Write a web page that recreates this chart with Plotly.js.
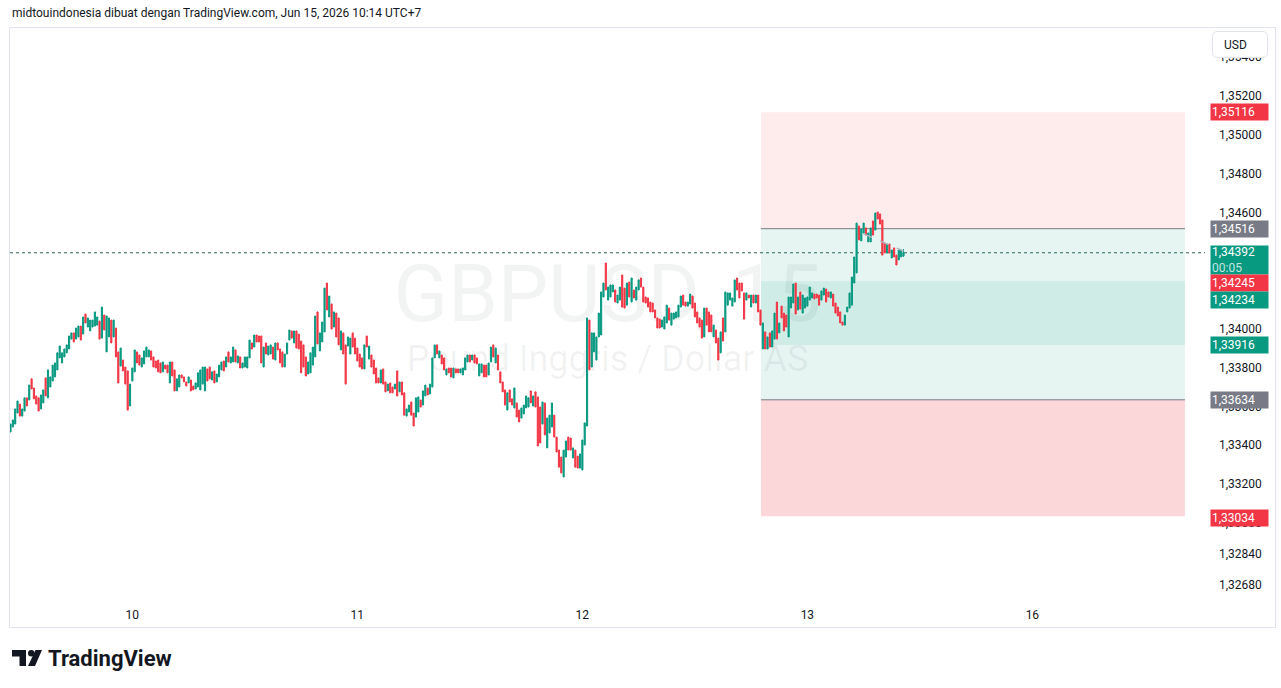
<!DOCTYPE html>
<html><head><meta charset="utf-8">
<script src="https://cdn.plot.ly/plotly-3.0.1.min.js"></script>
<style>html,body{margin:0;padding:0;background:#fff;}#chart{width:1281px;height:688px;}</style>
</head><body><div id="chart"></div>
<script>
// ---- DATA: GBPUSD 15-minute candles ----
const openPrice = [
1.33468,1.33494,1.33509,1.33566,1.33612,1.33550,1.33576,1.33644,1.33633,1.33742,
1.33695,1.33654,1.33644,1.33587,1.33618,1.33747,1.33644,1.33700,1.33731,1.33752,
1.33788,1.33850,1.33824,1.33855,1.33876,1.33896,1.33947,1.33979,1.33947,1.33958,
1.34014,1.33973,1.34076,1.34009,1.33989,1.34009,1.34014,1.34019,1.34040,1.33952,
1.34071,1.33881,1.33958,1.34045,1.33958,1.34004,1.33881,1.33808,1.33839,1.33803,
1.33783,1.33602,1.33731,1.33778,1.33881,1.33865,1.33803,1.33819,1.33855,1.33855,
1.33886,1.33855,1.33834,1.33839,1.33824,1.33778,1.33813,1.33813,1.33721,1.33829,
1.33788,1.33680,1.33700,1.33762,1.33752,1.33726,1.33721,1.33736,1.33705,1.33690,
1.33700,1.33685,1.33715,1.33680,1.33793,1.33803,1.33736,1.33783,1.33726,1.33752,
1.33788,1.33834,1.33803,1.33881,1.33824,1.33829,1.33891,1.33824,1.33855,1.33798,
1.33803,1.33798,1.33850,1.33927,1.33906,1.33968,1.33963,1.33963,1.33803,1.33927,
1.33865,1.33870,1.33906,1.33839,1.33927,1.33896,1.33881,1.33803,1.33870,1.33942,
1.33989,1.33927,1.33989,1.33973,1.33937,1.33917,1.33855,1.33767,1.33773,1.33813,
1.33855,1.34087,1.33886,1.33932,1.33984,1.34236,1.34061,1.34128,1.34009,1.34081,
1.34056,1.33891,1.33979,1.33917,1.33911,1.33870,1.33979,1.33952,1.33901,1.33870,
1.33850,1.33793,1.33963,1.33844,1.33865,1.33839,1.33798,1.33747,1.33721,1.33793,
1.33726,1.33680,1.33721,1.33700,1.33690,1.33783,1.33675,1.33726,1.33670,1.33550,
1.33571,1.33623,1.33566,1.33545,1.33571,1.33633,1.33607,1.33654,1.33695,1.33664,
1.33700,1.33850,1.33917,1.33850,1.33865,1.33850,1.33762,1.33798,1.33798,1.33747,
1.33793,1.33793,1.33773,1.33762,1.33788,1.33829,1.33865,1.33839,1.33865,1.33850,
1.33757,1.33773,1.33813,1.33813,1.33762,1.33829,1.33917,1.33824,1.33865,1.33778,
1.33726,1.33685,1.33581,1.33685,1.33639,1.33592,1.33618,1.33581,1.33540,1.33561,
1.33592,1.33597,1.33680,1.33602,1.33675,1.33649,1.33597,1.33509,1.33618,1.33386,
1.33463,1.33494,1.33555,1.33442,1.33375,1.33339,1.33236,1.33339,1.33442,1.33437,
1.33334,1.33375,1.33344,1.33282,1.33272,1.33401,1.33499,1.34045,1.33803,1.33881,
1.33839,1.33958,1.33968,1.34164,1.34339,1.34148,1.34164,1.34190,1.34200,1.34133,
1.34148,1.34277,1.34210,1.34122,1.34241,1.34138,1.34200,1.34148,1.34200,1.34262,
1.34215,1.34164,1.34159,1.34138,1.34133,1.34097,1.34056,1.34050,1.34009,1.33999,
1.34030,1.34107,1.34019,1.34050,1.34056,1.34061,1.34112,1.34174,1.34138,1.34117,
1.34128,1.34169,1.34133,1.34087,1.34056,1.34045,1.33958,1.34107,1.34087,1.34071,
1.33958,1.33994,1.33952,1.33876,1.34056,1.33984,1.34122,1.34148,1.34117,1.34138,
1.34262,1.34236,1.34236,1.34185,1.34148,1.34174,1.34112,1.34174,1.34133,1.34174,
1.34097,1.33896,1.33984,1.33896,1.33979,1.33906,1.33947,1.34138,1.33979,1.34117,
1.34081,1.34071,1.33958,1.34107,1.34133,1.34236,1.34097,1.34190,1.34081,1.34107,
1.34117,1.34148,1.34159,1.34179,1.34179,1.34174,1.34148,1.34174,1.34205,1.34190,
1.34159,1.34179,1.34133,1.34112,1.34087,1.34035,1.34019,1.34087,1.34107,1.34122,
1.34236,1.34288,1.34530,1.34453,1.34494,1.34520,1.34448,1.34448,1.34556,1.34509,
1.34602,1.34592,1.34561,1.34442,1.34391,1.34437,1.34365,1.34417,1.34380,1.34355,
1.34370,1.34375];
const highPrice = [
1.33509,1.33530,1.33587,1.33628,1.33612,1.33587,1.33644,1.33644,1.33710,1.33742,
1.33695,1.33654,1.33644,1.33659,1.33685,1.33747,1.33788,1.33752,1.33813,1.33824,
1.33876,1.33911,1.33876,1.33896,1.33917,1.33963,1.33979,1.33979,1.34004,1.34014,
1.34014,1.34061,1.34076,1.34056,1.34045,1.34045,1.34087,1.34061,1.34040,1.34112,
1.34071,1.34066,1.34056,1.34045,1.34045,1.34004,1.33881,1.33901,1.33839,1.33803,
1.33783,1.33715,1.33798,1.33891,1.33881,1.33865,1.33850,1.33886,1.33906,1.33891,
1.33886,1.33855,1.33834,1.33839,1.33824,1.33829,1.33813,1.33813,1.33829,1.33829,
1.33788,1.33742,1.33762,1.33762,1.33752,1.33726,1.33752,1.33736,1.33705,1.33721,
1.33773,1.33788,1.33803,1.33803,1.33793,1.33803,1.33778,1.33783,1.33767,1.33813,
1.33829,1.33834,1.33855,1.33881,1.33855,1.33906,1.33891,1.33860,1.33855,1.33824,
1.33855,1.33855,1.33942,1.33927,1.33968,1.33968,1.33963,1.33963,1.33906,1.33927,
1.33911,1.33917,1.33906,1.33927,1.33927,1.33896,1.33881,1.33870,1.33927,1.33994,
1.33989,1.33989,1.33989,1.33973,1.33937,1.33917,1.33855,1.33829,1.33876,1.33906,
1.34066,1.34087,1.33979,1.34035,1.34210,1.34236,1.34169,1.34128,1.34087,1.34081,
1.34056,1.33989,1.33979,1.33917,1.33958,1.33952,1.33979,1.33952,1.33901,1.33870,
1.33850,1.33917,1.33963,1.33911,1.33865,1.33839,1.33798,1.33747,1.33788,1.33793,
1.33726,1.33715,1.33721,1.33700,1.33715,1.33783,1.33726,1.33726,1.33670,1.33587,
1.33607,1.33623,1.33566,1.33644,1.33649,1.33633,1.33680,1.33710,1.33695,1.33715,
1.33850,1.33917,1.33917,1.33886,1.33865,1.33850,1.33793,1.33798,1.33798,1.33798,
1.33793,1.33793,1.33793,1.33798,1.33850,1.33865,1.33865,1.33865,1.33865,1.33850,
1.33819,1.33819,1.33813,1.33813,1.33824,1.33906,1.33917,1.33901,1.33865,1.33778,
1.33726,1.33685,1.33670,1.33685,1.33639,1.33695,1.33618,1.33581,1.33592,1.33607,
1.33654,1.33644,1.33680,1.33654,1.33675,1.33649,1.33597,1.33623,1.33618,1.33540,
1.33555,1.33618,1.33555,1.33442,1.33375,1.33339,1.33375,1.33422,1.33442,1.33437,
1.33386,1.33375,1.33344,1.33355,1.33427,1.33515,1.34056,1.34045,1.33979,1.33979,
1.33958,1.34081,1.34190,1.34236,1.34339,1.34215,1.34226,1.34226,1.34200,1.34174,
1.34215,1.34277,1.34210,1.34236,1.34241,1.34262,1.34200,1.34215,1.34252,1.34262,
1.34215,1.34164,1.34159,1.34138,1.34133,1.34097,1.34056,1.34050,1.34045,1.34061,
1.34122,1.34107,1.34081,1.34081,1.34087,1.34122,1.34169,1.34174,1.34138,1.34138,
1.34179,1.34169,1.34133,1.34087,1.34056,1.34045,1.34107,1.34107,1.34087,1.34071,
1.34019,1.33994,1.33952,1.33984,1.34056,1.34190,1.34185,1.34185,1.34159,1.34252,
1.34262,1.34236,1.34236,1.34185,1.34185,1.34174,1.34174,1.34174,1.34174,1.34174,
1.34097,1.34030,1.33984,1.33958,1.33979,1.33989,1.34081,1.34138,1.34030,1.34117,
1.34081,1.34071,1.34164,1.34164,1.34231,1.34236,1.34164,1.34190,1.34174,1.34159,
1.34164,1.34215,1.34185,1.34179,1.34179,1.34174,1.34195,1.34210,1.34205,1.34190,
1.34190,1.34179,1.34133,1.34112,1.34087,1.34035,1.34071,1.34112,1.34185,1.34267,
1.34370,1.34545,1.34530,1.34514,1.34545,1.34520,1.34494,1.34520,1.34556,1.34597,
1.34602,1.34592,1.34561,1.34442,1.34437,1.34437,1.34406,1.34417,1.34380,1.34406,
1.34406,1.34411];
const lowPrice = [
1.33468,1.33494,1.33509,1.33566,1.33550,1.33550,1.33576,1.33602,1.33633,1.33690,
1.33639,1.33612,1.33576,1.33587,1.33618,1.33654,1.33644,1.33700,1.33731,1.33752,
1.33788,1.33850,1.33824,1.33855,1.33876,1.33896,1.33947,1.33932,1.33947,1.33958,
1.33942,1.33973,1.34030,1.34009,1.33989,1.34009,1.34014,1.34019,1.33947,1.33952,
1.33994,1.33881,1.33958,1.33927,1.33958,1.33855,1.33721,1.33808,1.33783,1.33715,
1.33581,1.33602,1.33731,1.33778,1.33824,1.33813,1.33803,1.33819,1.33855,1.33855,
1.33839,1.33803,1.33798,1.33778,1.33773,1.33778,1.33793,1.33773,1.33721,1.33757,
1.33680,1.33680,1.33700,1.33747,1.33726,1.33705,1.33721,1.33680,1.33685,1.33690,
1.33700,1.33685,1.33715,1.33680,1.33731,1.33742,1.33736,1.33721,1.33726,1.33752,
1.33788,1.33783,1.33803,1.33829,1.33824,1.33829,1.33829,1.33824,1.33798,1.33798,
1.33803,1.33798,1.33850,1.33896,1.33906,1.33932,1.33932,1.33824,1.33803,1.33870,
1.33865,1.33870,1.33844,1.33839,1.33891,1.33824,1.33803,1.33803,1.33870,1.33942,
1.33952,1.33927,1.33901,1.33896,1.33773,1.33803,1.33757,1.33767,1.33773,1.33813,
1.33855,1.33922,1.33886,1.33932,1.33984,1.34097,1.34061,1.33999,1.34009,1.33958,
1.33917,1.33891,1.33870,1.33715,1.33911,1.33870,1.33906,1.33870,1.33834,1.33803,
1.33793,1.33793,1.33906,1.33844,1.33803,1.33767,1.33721,1.33721,1.33721,1.33715,
1.33675,1.33680,1.33670,1.33670,1.33690,1.33654,1.33675,1.33659,1.33555,1.33550,
1.33571,1.33555,1.33499,1.33545,1.33571,1.33597,1.33607,1.33654,1.33659,1.33664,
1.33700,1.33850,1.33870,1.33850,1.33819,1.33788,1.33762,1.33773,1.33752,1.33747,
1.33773,1.33773,1.33773,1.33762,1.33788,1.33829,1.33829,1.33839,1.33824,1.33819,
1.33757,1.33773,1.33752,1.33752,1.33762,1.33829,1.33855,1.33824,1.33788,1.33721,
1.33675,1.33607,1.33581,1.33623,1.33607,1.33592,1.33545,1.33520,1.33540,1.33561,
1.33592,1.33597,1.33618,1.33602,1.33597,1.33396,1.33412,1.33509,1.33453,1.33386,
1.33463,1.33494,1.33442,1.33365,1.33287,1.33257,1.33236,1.33339,1.33375,1.33375,
1.33334,1.33287,1.33282,1.33282,1.33272,1.33401,1.33499,1.33788,1.33803,1.33881,
1.33839,1.33958,1.33968,1.34164,1.34200,1.34148,1.34164,1.34190,1.34138,1.34133,
1.34148,1.34112,1.34107,1.34122,1.34164,1.34138,1.34159,1.34148,1.34200,1.34215,
1.34138,1.34133,1.34112,1.34087,1.34087,1.34056,1.34004,1.34004,1.34009,1.33999,
1.34030,1.34045,1.34019,1.34050,1.34056,1.34061,1.34112,1.34122,1.34117,1.34117,
1.34128,1.34107,1.34061,1.34030,1.34009,1.33952,1.33958,1.34019,1.33984,1.33984,
1.33958,1.33927,1.33839,1.33876,1.33937,1.33984,1.34122,1.34148,1.34117,1.34138,
1.34200,1.34159,1.34195,1.34050,1.34148,1.34159,1.34112,1.34133,1.34133,1.34087,
1.34019,1.33896,1.33896,1.33896,1.33906,1.33906,1.33947,1.33947,1.33979,1.34056,
1.33989,1.34009,1.33958,1.34107,1.34133,1.34076,1.34097,1.34102,1.34081,1.34107,
1.34117,1.34148,1.34159,1.34154,1.34159,1.34122,1.34148,1.34174,1.34138,1.34164,
1.34159,1.34117,1.34081,1.34066,1.34030,1.34019,1.34019,1.34087,1.34107,1.34122,
1.34236,1.34288,1.34458,1.34453,1.34494,1.34483,1.34448,1.34448,1.34483,1.34509,
1.34566,1.34540,1.34380,1.34391,1.34391,1.34391,1.34365,1.34370,1.34329,1.34355,
1.34370,1.34370];
const closePrice = [
1.33509,1.33530,1.33587,1.33628,1.33550,1.33587,1.33644,1.33602,1.33710,1.33690,
1.33639,1.33612,1.33576,1.33659,1.33685,1.33654,1.33788,1.33752,1.33813,1.33824,
1.33876,1.33911,1.33876,1.33896,1.33917,1.33963,1.33979,1.33932,1.34004,1.34014,
1.33942,1.34061,1.34030,1.34056,1.34045,1.34045,1.34087,1.34061,1.33947,1.34112,
1.33994,1.34066,1.34056,1.33927,1.34045,1.33855,1.33721,1.33901,1.33783,1.33715,
1.33581,1.33715,1.33798,1.33891,1.33824,1.33813,1.33850,1.33886,1.33906,1.33891,
1.33839,1.33803,1.33798,1.33778,1.33773,1.33829,1.33793,1.33773,1.33829,1.33757,
1.33680,1.33742,1.33762,1.33747,1.33726,1.33705,1.33752,1.33680,1.33685,1.33721,
1.33773,1.33788,1.33803,1.33803,1.33731,1.33742,1.33778,1.33721,1.33767,1.33813,
1.33829,1.33783,1.33855,1.33829,1.33855,1.33906,1.33829,1.33860,1.33798,1.33824,
1.33855,1.33855,1.33942,1.33896,1.33968,1.33932,1.33932,1.33824,1.33906,1.33870,
1.33911,1.33917,1.33844,1.33927,1.33891,1.33824,1.33803,1.33870,1.33927,1.33994,
1.33952,1.33989,1.33901,1.33896,1.33773,1.33803,1.33757,1.33829,1.33876,1.33906,
1.34066,1.33922,1.33979,1.34035,1.34210,1.34097,1.34169,1.33999,1.34087,1.33958,
1.33917,1.33989,1.33870,1.33715,1.33958,1.33952,1.33906,1.33870,1.33834,1.33803,
1.33793,1.33917,1.33906,1.33911,1.33803,1.33767,1.33721,1.33721,1.33788,1.33715,
1.33675,1.33715,1.33670,1.33670,1.33715,1.33654,1.33726,1.33659,1.33555,1.33587,
1.33607,1.33555,1.33499,1.33644,1.33649,1.33597,1.33680,1.33710,1.33659,1.33715,
1.33850,1.33917,1.33870,1.33886,1.33819,1.33788,1.33793,1.33773,1.33752,1.33798,
1.33773,1.33773,1.33793,1.33798,1.33850,1.33865,1.33829,1.33865,1.33824,1.33819,
1.33819,1.33819,1.33752,1.33752,1.33824,1.33906,1.33855,1.33901,1.33788,1.33721,
1.33675,1.33607,1.33670,1.33623,1.33607,1.33695,1.33545,1.33520,1.33592,1.33607,
1.33654,1.33644,1.33618,1.33654,1.33597,1.33396,1.33412,1.33623,1.33453,1.33540,
1.33555,1.33618,1.33442,1.33365,1.33287,1.33257,1.33375,1.33422,1.33375,1.33375,
1.33386,1.33287,1.33282,1.33355,1.33427,1.33515,1.34056,1.33788,1.33979,1.33979,
1.33958,1.34081,1.34190,1.34236,1.34200,1.34215,1.34226,1.34226,1.34138,1.34174,
1.34215,1.34112,1.34107,1.34236,1.34164,1.34262,1.34159,1.34215,1.34252,1.34215,
1.34138,1.34133,1.34112,1.34087,1.34087,1.34056,1.34004,1.34004,1.34045,1.34061,
1.34122,1.34045,1.34081,1.34081,1.34087,1.34122,1.34169,1.34122,1.34117,1.34138,
1.34179,1.34107,1.34061,1.34030,1.34009,1.33952,1.34107,1.34019,1.33984,1.33984,
1.34019,1.33927,1.33839,1.33984,1.33937,1.34190,1.34185,1.34185,1.34159,1.34252,
1.34200,1.34159,1.34195,1.34050,1.34185,1.34159,1.34174,1.34133,1.34174,1.34087,
1.34019,1.34030,1.33896,1.33958,1.33906,1.33989,1.34081,1.33947,1.34030,1.34056,
1.33989,1.34009,1.34164,1.34164,1.34231,1.34076,1.34164,1.34102,1.34174,1.34159,
1.34164,1.34215,1.34185,1.34154,1.34159,1.34122,1.34195,1.34210,1.34138,1.34164,
1.34190,1.34117,1.34081,1.34066,1.34030,1.34019,1.34071,1.34112,1.34185,1.34267,
1.34370,1.34545,1.34458,1.34514,1.34545,1.34483,1.34494,1.34520,1.34483,1.34597,
1.34566,1.34540,1.34380,1.34391,1.34437,1.34391,1.34406,1.34370,1.34329,1.34406,
1.34406,1.34392];

// time axis (candle slot of each day's first bar) and labels
const dayTickSlots = [52, 148, 244, 340, 436];
const dayTickLabels = ['10', '11', '12', '13', '16'];
// price axis ticks (1,34400 and 1,34200 sit fully under the scale labels in the reference)
const priceTicks = [1.354, 1.352, 1.350, 1.348, 1.346, 1.340, 1.338, 1.336, 1.334, 1.332, 1.330, 1.3284, 1.3268];
const priceTickLabels = ['1,35400','1,35200','1,35000','1,34800','1,34600','1,34000','1,33800','1,33600','1,33400','1,33200','1,33000','1,32840','1,32680'];
// position-tool levels
const stopUpper = 1.35116, entryShort = 1.34516, targetShort = 1.33634, stopLower = 1.33034;
const innerTop = 1.34245, innerBottom = 1.33916;
const toolStartSlot = 320.2, toolEndSlot = 501.1;
const lastPrice = 1.34392;
const lastPriceLabel = '1,34392';
const countdownText = '00:05';
// trend line drawing
const trendSlots = [364, 381];
const trendPrices = [1.34489, 1.34401];
// right-scale price labels
const scaleLabelPrices = [1.35116, 1.34516, 1.34245, 1.34234, 1.33916, 1.33634, 1.33034];
const scaleLabelTexts = ['1,35116','1,34516','1,34245','1,34234','1,33916','1,33634','1,33034'];
const scaleLabelColors = ['#f23645','#787b86','#f23645','#089981','#089981','#787b86','#f23645'];
const scaleLabelShift = [0, 0, -2, -17, 0, 0, -2];

// ---- layout helpers (pixel -> paper) ----
const L = 10, R = 1205, T = 28, B = 600;
const px = x => (x - L) / (R - L);
const py = y => (B - y) / (B - T);

const slots = openPrice.map((_, i) => i);
const FONT = 'Roboto, "Liberation Sans", sans-serif';

const trace = {
  type: 'candlestick', x: slots, open: openPrice, high: highPrice, low: lowPrice, close: closePrice,
  increasing: {line: {color: '#089981', width: 1}, fillcolor: '#089981'},
  decreasing: {line: {color: '#f23645', width: 1}, fillcolor: '#f23645'},
  whiskerwidth: 0, hoverinfo: 'skip', showlegend: false
};

function roundRect(x0, y0, x1, y1, r) {
  const rx = r / (R - L), ry = r / (B - T);
  const X0 = px(x0), X1 = px(x1), Y0 = py(y0), Y1 = py(y1);
  return `M${X0 + rx},${Y0} L${X1 - rx},${Y0} Q${X1},${Y0} ${X1},${Y0 - ry} L${X1},${Y1 + ry} Q${X1},${Y1} ${X1 - rx},${Y1} L${X0 + rx},${Y1} Q${X0},${Y1} ${X0},${Y1 + ry} L${X0},${Y0 - ry} Q${X0},${Y0} ${X0 + rx},${Y0} Z`;
}

const shapes = [
  // position tool zones
  {type:'rect', layer:'below', xref:'x', yref:'y', x0:toolStartSlot, x1:toolEndSlot, y0:entryShort, y1:stopUpper, fillcolor:'rgba(242,54,69,0.1)', line:{width:0}},
  {type:'rect', layer:'below', xref:'x', yref:'y', x0:toolStartSlot, x1:toolEndSlot, y0:targetShort, y1:entryShort, fillcolor:'rgba(8,153,129,0.1)', line:{width:0}},
  {type:'rect', layer:'below', xref:'x', yref:'y', x0:toolStartSlot, x1:toolEndSlot, y0:innerBottom, y1:innerTop, fillcolor:'rgba(8,153,129,0.1)', line:{width:0}},
  {type:'rect', layer:'below', xref:'x', yref:'y', x0:toolStartSlot, x1:toolEndSlot, y0:stopLower, y1:targetShort, fillcolor:'rgba(242,54,69,0.2)', line:{width:0}},
  {type:'line', layer:'below', xref:'x', yref:'y', x0:toolStartSlot, x1:toolEndSlot, y0:entryShort, y1:entryShort, line:{color:'#787b86', width:1}},
  {type:'line', layer:'below', xref:'x', yref:'y', x0:toolStartSlot, x1:toolEndSlot, y0:targetShort, y1:targetShort, line:{color:'#787b86', width:1}},
  // watermark
  {type:'rect', layer:'below', xref:'paper', yref:'paper', x0:px(300), x1:px(915), y0:py(330), y1:py(246), line:{width:0}, fillcolor:'rgba(0,0,0,0)',
   label:{text:'GBPUSD, 15', textposition:'middle center', font:{family:FONT, size:80, color:'rgba(42,46,57,0.06)'}}},
  {type:'rect', layer:'below', xref:'paper', yref:'paper', x0:px(300), x1:px(915), y0:py(376), y1:py(336), line:{width:0}, fillcolor:'rgba(0,0,0,0)',
   label:{text:'Pound Inggris / Dollar AS', textposition:'middle center', font:{family:FONT, size:36, color:'rgba(42,46,57,0.06)'}}},
  // last price dotted line
  {type:'line', layer:'below', xref:'paper', yref:'y', x0:0, x1:1, y0:lastPrice, y1:lastPrice, line:{color:'#2b5f57', width:1, dash:'dot'}},
  // trend line drawing
  {type:'line', layer:'above', xref:'x', yref:'y', x0:trendSlots[0], x1:trendSlots[1], y0:trendPrices[0], y1:trendPrices[1], line:{color:'#b2b5be', width:1.5, dash:'dash'}},
  // outer frame
  {type:'rect', layer:'above', xref:'paper', yref:'paper', x0:px(9.5), x1:px(1275.5), y0:py(627.5), y1:py(27.5), line:{color:'#e0e3eb', width:1}, fillcolor:'rgba(0,0,0,0)'},
  // USD button
  {type:'path', layer:'above', xref:'paper', yref:'paper', path:roundRect(1212.5, 31.5, 1267.5, 57.5, 5), fillcolor:'#ffffff', line:{color:'#e0e3eb', width:1}},
  // TradingView logo mark
  {type:'rect', layer:'above', xref:'paper', yref:'paper', x0:px(12), x1:px(26), y0:py(656.5), y1:py(650), fillcolor:'#131722', line:{width:0}},
  {type:'rect', layer:'above', xref:'paper', yref:'paper', x0:px(19.5), x1:px(26), y0:py(666), y1:py(650), fillcolor:'#131722', line:{width:0}},
  {type:'circle', layer:'above', xref:'paper', yref:'paper', x0:px(28), x1:px(34.5), y0:py(656.5), y1:py(650), fillcolor:'#131722', line:{width:0}},
  {type:'path', layer:'above', xref:'paper', yref:'paper', path:`M${px(28)},${py(666)} L${px(35)},${py(666)} L${px(42)},${py(650)} L${px(35.5)},${py(650)} Z`, fillcolor:'#131722', line:{width:0}}
];

const annotations = [
  {xref:'paper', yref:'paper', x:px(10), y:py(13), xanchor:'left', yanchor:'middle', showarrow:false,
   text:'midtouindonesia dibuat dengan TradingView.com, Jun 15, 2026 10:14 UTC+7', font:{family:FONT, size:12, color:'#131722'}},
  {xref:'paper', yref:'paper', x:px(46), y:py(658), xanchor:'left', yanchor:'middle', showarrow:false,
   text:'<b>TradingView</b>', font:{family:FONT, size:22, color:'#131722'}},
  {xref:'paper', yref:'paper', x:px(1222), y:py(44.5), xanchor:'left', yanchor:'middle', showarrow:false,
   text:'USD', font:{family:FONT, size:12, color:'#131722'}},
  // last price label with countdown
  {xref:'paper', yref:'y', x:px(1210), y:lastPrice, xanchor:'left', yanchor:'top', yshift:8, showarrow:false, align:'left', valign:'middle',
   text:lastPriceLabel + '<br><span style="color:rgba(255,255,255,0.78)">' + countdownText + '</span>', bgcolor:'#089981', borderpad:1, width:55, height:26,
   font:{family:FONT, size:12, color:'#ffffff'}}
];
scaleLabelPrices.forEach((p, i) => {
  annotations.push({xref:'paper', yref:'y', x:px(1210), y:p, xanchor:'left', yanchor:'middle', yshift:scaleLabelShift[i], showarrow:false, align:'left',
    text:scaleLabelTexts[i], bgcolor:scaleLabelColors[i], borderpad:1, width:55, height:14,
    font:{family:FONT, size:12, color:'#ffffff'}});
});

const layout = {
  width: 1281, height: 688,
  margin: {l: L, r: 1281 - R, t: T, b: 688 - B, pad: 0},
  paper_bgcolor: '#ffffff', plot_bgcolor: '#ffffff',
  showlegend: false,
  xaxis: {range: [-0.21, 509.65], rangeslider: {visible: false}, showgrid: false, zeroline: false, showline: false,
          tickmode: 'array', tickvals: dayTickSlots, ticktext: dayTickLabels, ticks: '', ticklabelstandoff: 6,
          tickfont: {family: FONT, size: 12, color: '#131722'}, fixedrange: true},
  yaxis: {side: 'right', range: [1.326021, 1.355505], showgrid: false, zeroline: false, showline: false,
          tickmode: 'array', tickvals: priceTicks, ticktext: priceTickLabels, ticks: '', ticklabelstandoff: 13,
          tickfont: {family: FONT, size: 12, color: '#131722'}, fixedrange: true},
  shapes: shapes,
  annotations: annotations
};

Plotly.newPlot('chart', [trace], layout, {staticPlot: true, displayModeBar: false});
</script>
</body></html>
